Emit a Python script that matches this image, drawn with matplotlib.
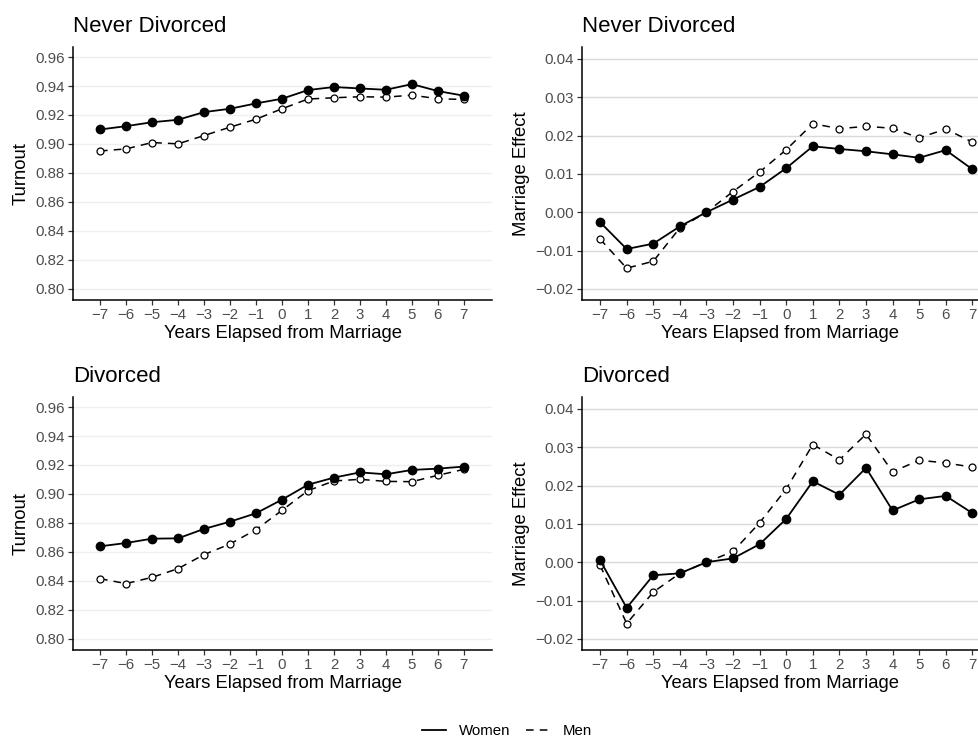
import matplotlib
matplotlib.use("Agg")
import matplotlib.pyplot as plt
from matplotlib.lines import Line2D

plt.rcParams['font.family'] = ['Liberation Sans', 'DejaVu Sans']

years = list(range(-7, 8))

# turnout, never divorced
nd_turn_women = [0.9100, 0.9123, 0.9150, 0.9167, 0.9220, 0.9243, 0.9280, 0.9312,
                 0.9372, 0.9393, 0.9383, 0.9374, 0.9413, 0.9365, 0.9333]
nd_turn_men = [0.8952, 0.8966, 0.9010, 0.9001, 0.9058, 0.9116, 0.9171, 0.9243,
               0.9310, 0.9319, 0.9326, 0.9323, 0.9337, 0.9312, 0.9307]

# marriage effect, never divorced
nd_eff_women = [-0.0026, -0.0096, -0.0082, -0.0037, 0.0000, 0.0033, 0.0066, 0.0115,
                0.0172, 0.0165, 0.0159, 0.0151, 0.0142, 0.0162, 0.0112]
nd_eff_men = [-0.0070, -0.0146, -0.0128, -0.0041, 0.0000, 0.0054, 0.0105, 0.0163,
              0.0231, 0.0218, 0.0224, 0.0219, 0.0194, 0.0217, 0.0183]

# turnout, divorced
d_turn_women = [0.8639, 0.8662, 0.8692, 0.8694, 0.8759, 0.8809, 0.8867, 0.8961,
                0.9064, 0.9113, 0.9149, 0.9136, 0.9166, 0.9175, 0.9189]
d_turn_men = [0.8416, 0.8382, 0.8425, 0.8485, 0.8582, 0.8655, 0.8754, 0.8887,
              0.9023, 0.9090, 0.9101, 0.9087, 0.9085, 0.9129, 0.9170]

# marriage effect, divorced
d_eff_women = [0.0005, -0.0119, -0.0034, -0.0029, 0.0000, 0.0010, 0.0047, 0.0113,
               0.0211, 0.0176, 0.0246, 0.0135, 0.0164, 0.0173, 0.0128]
d_eff_men = [-0.0008, -0.0160, -0.0078, -0.0029, 0.0000, 0.0028, 0.0103, 0.0191,
             0.0307, 0.0267, 0.0334, 0.0236, 0.0266, 0.0259, 0.0248]

turn_ticks = [0.80, 0.82, 0.84, 0.86, 0.88, 0.90, 0.92, 0.94, 0.96]
eff_ticks = [-0.02, -0.01, 0.00, 0.01, 0.02, 0.03, 0.04]

DASH = (0, (5, 4))

W, H = 979, 738
fig = plt.figure(figsize=(W / 100, H / 100), dpi=100)


def px_axes(left, top, right, bottom):
    return fig.add_axes([left / W, 1 - bottom / H, (right - left) / W, (bottom - top) / H])


def panel(ax, title, women, men, ylabel, yticks, ylim, xlim, gridcol):
    ax.plot(years, men, color='black', lw=1.1, ls=DASH, marker='o', ms=5,
            mfc='white', mec='black', mew=0.9, zorder=3)
    ax.plot(years, women, color='black', lw=1.3, marker='o', ms=6,
            mfc='black', mec='black', zorder=4)
    ax.set_xlim(*xlim)
    ax.set_ylim(*ylim)
    ax.set_xticks(years)
    ax.set_xticklabels([str(y).replace('-', '\u2212') for y in years])
    ax.set_yticks(yticks)
    ax.set_yticklabels([f'{t:.2f}'.replace('-', '\u2212') for t in yticks])
    ax.grid(axis='y', color=gridcol, lw=1.0)
    ax.set_axisbelow(True)
    for s in ['top', 'right']:
        ax.spines[s].set_visible(False)
    for s in ['left', 'bottom']:
        ax.spines[s].set_linewidth(1.1)
    ax.tick_params(axis='both', length=3.5, width=0.9, color='#333333',
                   labelcolor='#4D4D4D', labelsize=10.8, pad=2.5)
    ax.set_xlabel('Years Elapsed from Marriage', fontsize=13.3, labelpad=2)
    ax.set_ylabel(ylabel, fontsize=13.3, labelpad=4)
    ax.set_title(title, loc='left', fontsize=16, pad=11)


ax1 = px_axes(73, 47, 492, 300)
panel(ax1, 'Never Divorced', nd_turn_women, nd_turn_men, 'Turnout',
      turn_ticks, (0.7924, 0.9669), (-8.04, 8.08), '#EFEFEF')

ax2 = px_axes(582, 47, 979, 300)
panel(ax2, 'Never Divorced', nd_eff_women, nd_eff_men, 'Marriage Effect',
      eff_ticks, (-0.0229, 0.0431), (-7.68, 7.25), '#DADADA')

ax3 = px_axes(73, 397, 492, 650)
panel(ax3, 'Divorced', d_turn_women, d_turn_men, 'Turnout',
      turn_ticks, (0.7924, 0.9669), (-8.04, 8.08), '#EFEFEF')

ax4 = px_axes(582, 397, 979, 650)
panel(ax4, 'Divorced', d_eff_women, d_eff_men, 'Marriage Effect',
      eff_ticks, (-0.0229, 0.0431), (-7.68, 7.25), '#DADADA')

handles = [Line2D([], [], color='black', lw=1.3),
           Line2D([], [], color='black', lw=1.1, ls=DASH)]
fig.legend(handles, ['Women', 'Men'], loc='center', bbox_to_anchor=(507 / W, 1 - 731 / H),
           ncol=2, frameon=False, fontsize=10.8, handlelength=1.6, columnspacing=1.0,
           handletextpad=0.85)

fig.savefig('out.png', dpi=100)
